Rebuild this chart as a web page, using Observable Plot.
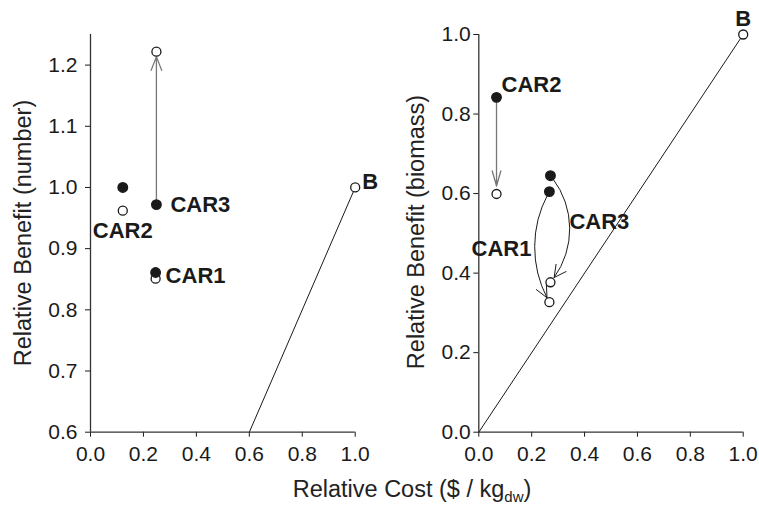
<!DOCTYPE html>
<html>
<head>
<meta charset="utf-8">
<script src="https://cdn.jsdelivr.net/npm/d3@7"></script>
<script src="https://cdn.jsdelivr.net/npm/@observablehq/plot@0.6"></script>
<style>
  html, body { margin: 0; padding: 0; background: #fff; }
  #wrap { position: relative; width: 759px; height: 510px; background: #fff; overflow: hidden; }
  #left, #right { position: absolute; top: 0; }
  #left { left: 0; }
  #right { left: 380px; }
  .title { position: absolute; font: 23.5px "Liberation Sans", Arial, sans-serif; color: #222; white-space: nowrap; line-height: 26px; }
  #xtitle { left: 412px; top: 476px; transform: translateX(-50%); }
  #xtitle sub { font-size: 15px; vertical-align: -5px; line-height: 0; }
  #ytitleL { left: 23px; top: 233px; transform: translate(-50%, -50%) rotate(-90deg); }
  #ytitleR { left: 416px; top: 232px; transform: translate(-50%, -50%) rotate(-90deg); }
  svg { overflow: visible; }
</style>
</head>
<body>
<div id="wrap">
  <div id="left"></div>
  <div id="right"></div>
  <div class="title" id="ytitleL">Relative Benefit (number)</div>
  <div class="title" id="ytitleR">Relative Benefit (biomass)</div>
  <div class="title" id="xtitle">Relative Cost ($ / kg<sub>dw</sub>)</div>
</div>
<script>
// ---- data ----
const categories = ["CAR1", "CAR2", "CAR3"];

// left panel: Relative Benefit (number)
const leftCost = [0.246, 0.122, 0.249];
const leftBenefitBefore = [0.861, 1.000, 0.972];
const leftBenefitAfter = [0.851, 0.962, 1.222];

// right panel: Relative Benefit (biomass)
const rightCostBefore = [0.267, 0.067, 0.271];
const rightCostAfter = [0.267, 0.067, 0.271];
const rightBenefitBefore = [0.605, 0.842, 0.645];
const rightBenefitAfter = [0.327, 0.599, 0.377];

// baseline point B and parity line
const baselineLabel = "B";
const baselineCost = [1.0];
const baselineBenefit = [1.0];
const parityLine = [0, 1];

// ticks
const xTicks = [0, 0.2, 0.4, 0.6, 0.8, 1.0];
const leftYTicks = [0.6, 0.7, 0.8, 0.9, 1.0, 1.1, 1.2];
const rightYTicks = [0, 0.2, 0.4, 0.6, 0.8, 1.0];

// ---- tables built from arrays ----
const leftRows = categories.map((c, i) => ({cat: c, x: leftCost[i], yb: leftBenefitBefore[i], ya: leftBenefitAfter[i]}));
const rightRows = categories.map((c, i) => ({cat: c, xb: rightCostBefore[i], xa: rightCostAfter[i], yb: rightBenefitBefore[i], ya: rightBenefitAfter[i]}));
const bRows = baselineCost.map((x, i) => ({x, y: baselineBenefit[i], label: baselineLabel}));
const parityRows = parityLine.map(v => ({x: v, y: v}));

const FONT = '"Liberation Sans", Arial, sans-serif';
const INK = "#1a1a1a";
const AXIS = "#333";
const ARROW = "#777";
const LBL = 22;

const commonStyle = {fontFamily: FONT, fontSize: "21px", color: INK, background: "transparent", overflow: "visible"};

// ---- left panel ----
const left = Plot.plot({
  width: 380, height: 470,
  marginLeft: 90, marginRight: 25.3, marginTop: 34, marginBottom: 38.3,
  style: commonStyle,
  x: {domain: [0, 1], ticks: xTicks, tickFormat: d3.format(".1f"), tickSize: 5, tickPadding: 9, label: null},
  y: {domain: [0.6, 1.25], ticks: leftYTicks, tickFormat: d3.format(".1f"), tickSize: 5, tickPadding: 8, label: null},
  marks: [
    Plot.ruleX([0], {y1: 0.6, y2: 1.25, stroke: AXIS, strokeWidth: 1.3}),
    Plot.ruleY([0.6], {x1: 0, x2: 1, stroke: AXIS, strokeWidth: 1.3}),
    Plot.line(parityRows, {x: "x", y: "y", stroke: INK, strokeWidth: 1, clip: true}),
    Plot.arrow(leftRows.filter(d => d.cat === "CAR3"), {x1: "x", y1: "yb", x2: "x", y2: "ya",
      stroke: ARROW, strokeWidth: 1.3, headLength: 17, headAngle: 42, insetStart: 4, insetEnd: 5}),
    Plot.dot(leftRows, {x: "x", y: "ya", r: 4.5, fill: "white", stroke: INK, strokeWidth: 1.3}),
    Plot.dot(leftRows, {x: "x", y: "yb", r: 4.7, fill: INK, stroke: INK}),
    Plot.dot(bRows, {x: "x", y: "y", r: 4.5, fill: "white", stroke: INK, strokeWidth: 1.3}),
    Plot.text(leftRows.filter(d => d.cat === "CAR3"), {x: "x", y: "yb", text: "cat", textAnchor: "start", dx: 14, dy: 0, fontSize: LBL, fontWeight: "bold", fill: INK}),
    Plot.text(leftRows.filter(d => d.cat === "CAR2"), {x: "x", y: "ya", text: "cat", textAnchor: "middle", dx: 0, dy: 20, fontSize: LBL, fontWeight: "bold", fill: INK}),
    Plot.text(leftRows.filter(d => d.cat === "CAR1"), {x: "x", y: "yb", text: "cat", textAnchor: "start", dx: 10, dy: 3, fontSize: LBL, fontWeight: "bold", fill: INK}),
    Plot.text(bRows, {x: "x", y: "y", text: "label", textAnchor: "start", dx: 7, dy: -6, fontSize: LBL, fontWeight: "bold", fill: INK})
  ]
});
document.getElementById("left").appendChild(left);

// ---- right panel ----
const right = Plot.plot({
  width: 379, height: 470,
  marginLeft: 98.3, marginRight: 16.3, marginTop: 34, marginBottom: 38.3,
  style: commonStyle,
  x: {domain: [0, 1], ticks: xTicks, tickFormat: d3.format(".1f"), tickSize: 5, tickPadding: 9, label: null},
  y: {domain: [0, 1], ticks: rightYTicks, tickFormat: d3.format(".1f"), tickSize: 5, tickPadding: 3, label: null},
  marks: [
    Plot.ruleX([0], {y1: 0, y2: 1, stroke: AXIS, strokeWidth: 1.3}),
    Plot.ruleY([0], {x1: 0, x2: 1, stroke: AXIS, strokeWidth: 1.3}),
    Plot.line(parityRows, {x: "x", y: "y", stroke: INK, strokeWidth: 1}),
    Plot.arrow(rightRows.filter(d => d.cat === "CAR2"), {x1: "xb", y1: "yb", x2: "xa", y2: "ya",
      stroke: ARROW, strokeWidth: 1.3, headLength: 18, headAngle: 32, insetStart: 2, insetEnd: 8}),
    Plot.arrow(rightRows.filter(d => d.cat === "CAR1"), {x1: "xb", y1: "yb", x2: "xa", y2: "ya",
      stroke: INK, strokeWidth: 1, bend: -30, headLength: 20, headAngle: 50, insetStart: 4, insetEnd: 5}),
    Plot.arrow(rightRows.filter(d => d.cat === "CAR3"), {x1: "xb", y1: "yb", x2: "xa", y2: "ya",
      stroke: INK, strokeWidth: 1, bend: 40, headLength: 20, headAngle: 55, insetStart: 4, insetEnd: 6}),
    Plot.dot(rightRows, {x: "xa", y: "ya", r: 4.5, fill: "white", stroke: INK, strokeWidth: 1.3}),
    Plot.dot(rightRows, {x: "xb", y: "yb", r: 4.7, fill: INK, stroke: INK}),
    Plot.dot(bRows, {x: "x", y: "y", r: 4.5, fill: "white", stroke: INK, strokeWidth: 1.3}),
    Plot.text(rightRows.filter(d => d.cat === "CAR2"), {x: "xb", y: "yb", text: "cat", textAnchor: "start", dx: 5, dy: -12, fontSize: LBL, fontWeight: "bold", fill: INK}),
    Plot.text(rightRows.filter(d => d.cat === "CAR1"), {x: "xb", y: d => (d.yb + d.ya) / 2, text: "cat", textAnchor: "end", dx: -18, dy: 2, fontSize: LBL, fontWeight: "bold", fill: INK}),
    Plot.text(rightRows.filter(d => d.cat === "CAR3"), {x: "xb", y: d => (d.yb + d.ya) / 2, text: "cat", textAnchor: "start", dx: 19, dy: -7, fontSize: LBL, fontWeight: "bold", fill: INK}),
    Plot.text(bRows, {x: "x", y: "y", text: "label", textAnchor: "middle", dx: 0, dy: -16, fontSize: LBL, fontWeight: "bold", fill: INK})
  ]
});
document.getElementById("right").appendChild(right);
</script>
</body>
</html>
